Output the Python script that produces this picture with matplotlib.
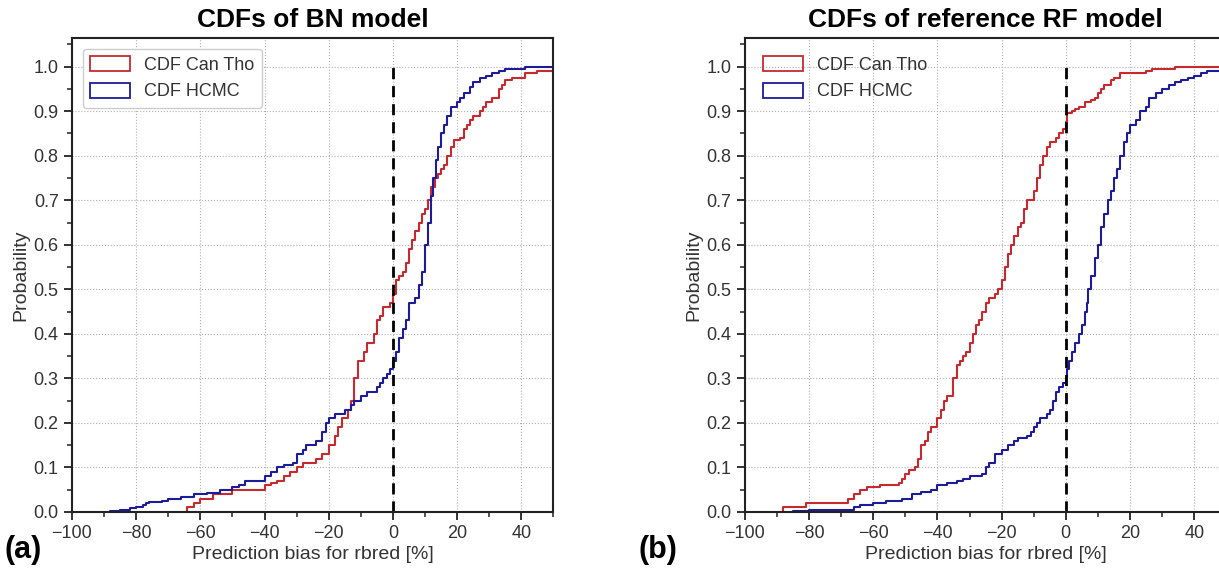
import matplotlib.pyplot as plt
from matplotlib.patches import Patch
from matplotlib.ticker import MultipleLocator

plt.rcParams['font.family'] = ['Liberation Sans', 'DejaVu Sans']
plt.rcParams['font.stretch'] = 'normal'

# panel (a): BN model, step points (bias %, cumulative probability)
bn_ct_x = [-65, -64, -62, -60, -56, -50, -40, -38, -36, -34, -32, -30, -28, -24, -22,
           -20, -18, -17, -16, -14, -13, -12, -11, -9, -8, -6, -5, -4, -3, -1,
           0, 1, 2, 3, 4, 5, 6, 7, 8, 9, 10, 11, 12, 13, 14, 15, 16, 17, 18, 19,
           21, 22, 23, 24, 25, 27, 28, 29, 31, 33, 34, 35, 37, 41, 45, 55]
bn_ct_y = [0.0, 0.01, 0.02, 0.03, 0.04, 0.05, 0.06, 0.065, 0.07, 0.08, 0.09, 0.10, 0.11, 0.12, 0.13,
           0.15, 0.17, 0.19, 0.21, 0.23, 0.25, 0.30, 0.34, 0.36, 0.38, 0.40, 0.43, 0.44, 0.46, 0.47,
           0.49, 0.52, 0.53, 0.54, 0.56, 0.59, 0.61, 0.63, 0.65, 0.67, 0.68, 0.70, 0.73, 0.75, 0.76, 0.77, 0.78, 0.80, 0.82, 0.835,
           0.84, 0.86, 0.87, 0.88, 0.89, 0.90, 0.91, 0.92, 0.93, 0.95, 0.96, 0.97, 0.975, 0.985, 0.99, 0.99]
bn_hc_x = [-88, -85, -82, -80, -78, -77, -76, -72, -70, -66, -62, -58, -54, -50, -48, -46,
           -40, -38, -36, -34, -31, -30, -28, -27, -24, -22, -21, -20, -18, -15, -13, -12,
           -10, -8, -5, -4, -3, -2, -1, 0, 1, 2, 3, 4, 5, 7, 8, 9, 10, 11, 12, 12.5,
           13.5, 14, 15, 16, 17, 18, 20, 21, 22, 24, 25, 27, 29, 31, 33, 35, 41, 55]
bn_hc_y = [0.003, 0.005, 0.008, 0.01, 0.015, 0.02, 0.023, 0.025, 0.03, 0.033, 0.04, 0.043, 0.05, 0.055, 0.06, 0.07,
           0.08, 0.09, 0.10, 0.105, 0.11, 0.13, 0.14, 0.15, 0.16, 0.18, 0.20, 0.21, 0.22, 0.23, 0.24, 0.25,
           0.26, 0.27, 0.28, 0.29, 0.30, 0.31, 0.32, 0.34, 0.36, 0.39, 0.41, 0.43, 0.47, 0.48, 0.51, 0.54, 0.60, 0.65, 0.71, 0.75,
           0.79, 0.82, 0.85, 0.87, 0.89, 0.91, 0.92, 0.93, 0.94, 0.955, 0.965, 0.975, 0.98, 0.985, 0.99, 0.995, 1.0, 1.0]

# panel (b): reference RF model
rf_ct_x = [-88, -86, -81, -68, -66, -64, -62, -58, -52, -51, -50, -49, -47, -46, -45, -44,
           -43, -42, -40, -39, -38, -37, -35, -34, -33, -32, -31, -30, -29, -28, -27, -26,
           -25, -24, -22, -21, -20, -19, -18, -17, -16, -15, -14, -13, -12, -10, -9, -8,
           -7, -6, -5, -3, -2, -1, 0, 0.5, 2, 3, 4, 6, 8, 9, 10, 11, 12, 14, 15, 17,
           25, 27, 34, 55]
rf_ct_y = [0.01, 0.012, 0.02, 0.03, 0.04, 0.05, 0.057, 0.06, 0.065, 0.075, 0.085, 0.095, 0.10, 0.12, 0.15, 0.16,
           0.18, 0.19, 0.21, 0.23, 0.25, 0.26, 0.30, 0.33, 0.34, 0.35, 0.36, 0.38, 0.40, 0.42, 0.43, 0.45,
           0.47, 0.48, 0.49, 0.50, 0.52, 0.55, 0.58, 0.60, 0.62, 0.64, 0.65, 0.68, 0.70, 0.72, 0.75, 0.78,
           0.80, 0.82, 0.83, 0.84, 0.85, 0.86, 0.875, 0.895, 0.90, 0.905, 0.91, 0.92, 0.925, 0.93, 0.94, 0.95, 0.96, 0.97, 0.975, 0.985,
           0.99, 0.995, 1.0, 1.0]
rf_hc_x = [-85, -80, -66, -64, -60, -56, -51, -48, -45, -42, -40, -37, -34, -32, -30, -26,
           -25, -24, -22, -20, -18, -16, -15, -12, -11, -10, -9, -8, -6, -5, -4, -3,
           -2, -1, 0, 0.5, 1, 2, 3, 4, 5, 6, 6.5, 7, 8, 9, 10, 11, 12, 13, 14, 15,
           16, 17, 18, 19, 20, 22, 23, 25, 26, 28, 30, 32, 34, 36, 38, 40, 42, 44, 55]
rf_hc_y = [0.003, 0.005, 0.01, 0.015, 0.02, 0.025, 0.03, 0.04, 0.045, 0.05, 0.06, 0.065, 0.07, 0.075, 0.08, 0.085,
           0.10, 0.11, 0.13, 0.14, 0.15, 0.16, 0.165, 0.17, 0.18, 0.19, 0.20, 0.21, 0.22, 0.23, 0.25, 0.27,
           0.28, 0.29, 0.30, 0.32, 0.34, 0.36, 0.38, 0.40, 0.42, 0.45, 0.47, 0.50, 0.53, 0.57, 0.60, 0.64, 0.67, 0.70, 0.72, 0.75,
           0.77, 0.80, 0.83, 0.85, 0.87, 0.88, 0.90, 0.91, 0.93, 0.94, 0.95, 0.96, 0.965, 0.97, 0.975, 0.98, 0.985, 0.99, 0.99]

labels = ['CDF Can Tho', 'CDF HCMC']
titles = ['CDFs of BN model', 'CDFs of reference RF model']
panel_tags = ['(a)', '(b)']
red = '#c62a2f'
blue = '#1b1b9c'

fig = plt.figure(figsize=(12.19, 5.72), dpi=100)
ax_a = fig.add_axes([0.059, 0.105, 0.395, 0.829])
ax_b = fig.add_axes([0.611, 0.105, 0.395, 0.829])

panels = [(ax_a, bn_ct_x, bn_ct_y, bn_hc_x, bn_hc_y),
          (ax_b, rf_ct_x, rf_ct_y, rf_hc_x, rf_hc_y)]

for i, (ax, cx, cy, hx, hy) in enumerate(panels):
    ax.step([cx[0]] + cx, [0] + cy, where='post', color=red, lw=1.5)
    ax.step([hx[0]] + hx, [0] + hy, where='post', color=blue, lw=1.5)
    ax.plot([0, 0], [0, 1.01], color='black', ls='--', lw=2, dashes=(4, 2.5))

    ax.set_xlim(-100, 50)
    ax.set_ylim(0, 1.065)
    ax.xaxis.set_major_locator(MultipleLocator(20))
    ax.xaxis.set_minor_locator(MultipleLocator(10))
    ax.yaxis.set_major_locator(MultipleLocator(0.1))
    ax.yaxis.set_minor_locator(MultipleLocator(0.05))
    ax.set_yticks([round(v * 0.1, 1) for v in range(11)])
    ax.grid(True, which='major', color='#b0b0b0', ls=':', lw=0.8)
    ax.tick_params(which='major', direction='out', length=6, width=1.3,
                   labelsize=13, colors='#222222', labelcolor='#333333')
    ax.tick_params(which='minor', direction='out', length=3.5, width=1.1, colors='#222222')
    for sp in ax.spines.values():
        sp.set_linewidth(1.5)
        sp.set_color('#222222')

    ax.set_xlabel('Prediction bias for rbred [%]', fontsize=14, color='#333333', labelpad=3)
    ax.set_ylabel('Probability', fontsize=14, color='#333333', labelpad=3)
    ax.set_title(titles[i], fontsize=19, fontweight='bold', fontstretch='normal',
                 family='Liberation Sans', pad=8)

    handles = [Patch(facecolor='none', edgecolor=red, lw=1.3),
               Patch(facecolor='none', edgecolor=blue, lw=1.3)]
    leg = ax.legend(handles, labels, loc='upper left', fontsize=13,
                    frameon=(i == 0), fancybox=True, framealpha=1,
                    edgecolor='#cccccc', handlelength=2.2, handleheight=0.9,
                    borderaxespad=0.6)
    for t in leg.get_texts():
        t.set_color('#333333')

fig.text(0.004, 0.025, panel_tags[0], fontsize=22, fontweight='bold', family='Liberation Sans')
fig.text(0.524, 0.025, panel_tags[1], fontsize=22, fontweight='bold', family='Liberation Sans')

fig.savefig('out.png', dpi=100)
